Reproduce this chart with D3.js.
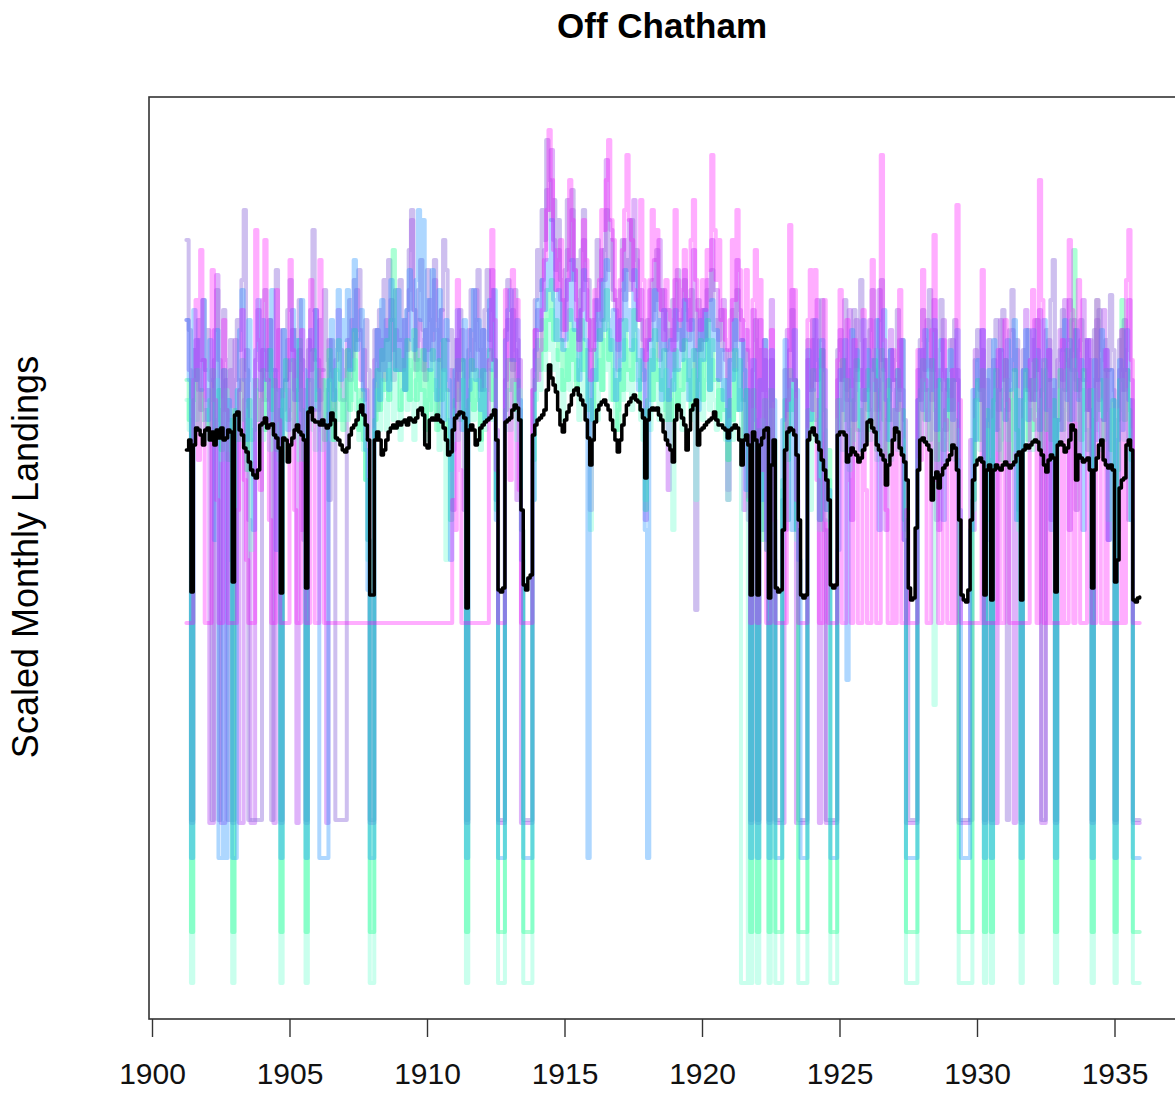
<!DOCTYPE html>
<html><head><meta charset="utf-8">
<script src="https://cdn.jsdelivr.net/npm/d3@7"></script>
<style>body{margin:0;background:#fff}svg{display:block}</style>
</head><body>
<svg id="chart" width="1175" height="1098"></svg>
<script>
const _ = null; // month with no landings -> drawn at the series' zero level
const startYear = 1901, startMonth = 4; // monthly series start April 1901
const xTicks = [1900, 1905, 1910, 1915, 1920, 1925, 1930, 1935];
const title = "Off Chatham";
const yLabel = "Scaled Monthly Landings";

// black line: combined scaled monthly landings
const combined = [
 -0.10,0.00,-1.52,-0.05,0.12,0.10,0.05,-0.05,0.10,
 0.12,0.00,0.08,-0.05,0.10,0.02,0.12,0.00,0.02,0.10,0.08,-1.42,
 0.25,0.28,0.10,0.05,-0.08,-0.12,-0.22,-0.30,-0.35,-0.38,-0.30,0.15,
 0.17,0.22,0.12,0.15,0.16,0.05,0.02,-0.08,-1.53,0.02,0.00,-0.22,
 -0.05,0.02,0.10,0.15,0.08,0.05,0.00,-1.48,0.28,0.32,0.20,0.18,
 0.18,0.15,0.20,0.15,0.12,0.15,0.27,0.20,0.02,0.00,-0.05,-0.10,
 -0.12,-0.08,0.05,0.12,0.15,0.20,0.28,0.35,0.25,0.15,0.00,-1.55,
 -1.55,0.00,0.08,0.00,-0.15,-0.10,0.00,0.08,0.12,0.15,0.12,0.18,
 0.15,0.18,0.20,0.15,0.22,0.20,0.18,0.22,0.30,0.32,0.25,-0.05,
 -0.08,0.20,0.22,0.20,0.25,0.20,0.18,0.12,0.00,-0.15,-0.12,0.10,
 0.22,0.25,0.28,0.27,0.22,-1.68,0.10,0.15,0.10,-0.05,0.00,0.12,
 0.15,0.18,0.20,0.22,0.25,0.30,0.00,-1.50,-1.52,-1.48,0.18,0.20,
 0.22,0.30,0.35,0.32,0.20,-0.70,-1.45,-1.50,-1.38,-1.35,0.05,0.15,
 0.20,0.22,0.25,0.30,0.50,0.75,0.62,0.55,0.48,0.30,0.15,0.08,
 0.20,0.28,0.35,0.45,0.50,0.52,0.45,0.40,0.35,0.20,0.02,-0.25,
 0.00,0.18,0.30,0.35,0.38,0.40,0.35,0.30,0.20,0.10,0.00,-0.12,
 0.00,0.15,0.25,0.35,0.38,0.42,0.45,0.40,0.38,0.30,0.22,-0.38,
 0.20,0.30,0.32,0.30,0.32,0.25,0.20,0.08,0.00,-0.05,-0.10,-0.22,
 0.20,0.35,0.30,0.22,0.15,-0.10,0.10,0.30,0.35,0.40,-0.05,0.10,
 0.12,0.15,0.18,0.20,0.22,0.28,0.20,0.15,0.15,0.12,0.10,0.02,
 0.10,0.12,0.15,0.12,0.00,-0.25,0.00,0.05,-0.05,-1.55,0.08,0.00,
 -1.55,-0.05,0.02,0.10,0.12,-1.58,-0.25,0.00,-1.48,-1.52,-1.50,-0.90,
 -0.10,0.08,0.12,0.10,0.05,-0.15,-0.80,-1.55,-1.58,-1.55,0.00,0.08,
 0.12,0.05,-0.02,-0.10,-0.20,-0.30,-0.40,-0.60,-1.45,-1.48,-1.45,0.05,
 0.08,0.08,0.05,-0.22,-0.15,-0.08,-0.12,-0.15,-0.22,-0.18,-0.10,-0.05,
 0.18,0.20,0.12,0.08,-0.05,-0.10,-0.15,-0.20,-0.45,-0.25,-0.15,0.00,
 0.12,0.08,-0.08,-0.15,-0.22,-0.40,-1.48,-1.60,-1.58,-0.88,-0.30,0.00,
 0.02,-0.02,-0.05,-0.10,-0.60,-0.38,-0.32,-0.48,-0.35,-0.28,-0.25,-0.20,
 -0.15,-0.05,-0.08,-0.30,-0.80,-1.55,-1.60,-1.62,-1.50,-0.80,-0.40,-0.25,
 -0.20,-0.18,-0.22,-1.55,-0.30,-0.25,-1.60,-0.30,-0.25,-0.28,-0.30,-0.25,
 -0.22,-0.25,-0.28,-0.25,-0.22,-0.15,-0.12,-1.60,-0.10,-0.05,-0.08,-0.05,
 -0.02,0.00,-0.02,-0.10,-0.15,-0.25,-0.32,-0.20,-0.15,-0.18,-1.52,-0.05,
 -0.02,-0.05,-0.12,-0.08,0.00,0.15,0.10,-0.40,-0.15,-0.18,-0.22,-0.20,
 -0.18,-0.30,-1.48,-0.30,-0.18,-0.05,0.00,-0.20,-0.25,-0.28,-0.25,-0.30,
 -1.42,-1.20,-0.48,-0.40,-0.38,-0.05,0.00,-0.10,-1.60,-1.62,-1.58,-1.57
];

const seriesPurple = [
 1.2,0.7,_,0.6,1.0,0.5,0.3,0.8,0.4,
 0.5,_,_,1.1,1.65,0.8,_,_,0.6,0.2,0.7,_,
 1.0,0.6,_,_,0.4,0.9,-0.8,_,_,0.8,1.3,0.7,
 0.9,0.4,0.6,1.2,0.7,_,0.7,1.1,_,0.3,0.6,1.0,
 0.7,1.1,0.5,_,0.9,-0.9,0.5,_,1.0,0.7,0.9,1.3,
 0.8,0.4,0.7,0.5,_,1.0,0.7,0.3,0.8,1.3,0.9,0.4,
 0.7,1.0,0.6,1.2,0.9,1.5,1.1,0.6,0.9,0.5,-1.0,_,
 _,0.8,1.1,0.7,1.0,0.6,1.2,0.8,1.4,0.9,1.1,0.7,
 1.0,0.7,1.2,0.9,1.5,2.2,1.3,0.8,1.2,1.0,0.7,1.1,
 0.9,1.4,1.0,1.6,1.2,0.8,1.3,0.7,1.0,0.5,0.7,-0.7,
 0.6,1.0,0.7,1.1,0.8,_,1.1,0.7,1.0,1.5,0.9,0.5,
 1.1,0.7,0.9,1.3,1.7,0.8,0.1,_,_,_,0.6,1.2,
 0.8,1.3,0.9,-0.6,0.8,_,_,_,_,_,0.7,1.1,
 1.3,1.1,1.6,1.9,2.5,2.3,2.9,2.0,1.5,1.9,1.4,1.0,
 1.4,1.9,1.6,2.3,1.7,1.4,1.0,1.5,2.0,1.5,1.2,-0.7,
 0.9,1.4,1.2,1.0,1.9,1.6,2.8,2.2,2.1,1.5,1.3,0.9,
 1.2,1.5,2.0,1.7,2.2,1.6,2.4,1.8,1.2,1.5,1.0,-0.8,
 1.0,1.5,1.2,1.8,1.4,2.0,1.3,1.5,1.1,-0.5,1.1,0.7,
 1.6,1.1,1.2,0.9,1.7,1.2,1.4,1.1,1.9,1.3,0.9,1.0,
 1.3,1.0,1.6,1.4,2.0,1.5,1.5,1.0,1.2,1.4,0.8,-0.5,
 0.9,1.4,1.0,1.8,1.3,1.2,-0.7,1.1,0.8,_,1.3,1.0,
 _,1.2,0.5,0.8,-1.1,_,1.4,-1.3,_,_,_,_,
 -0.9,1.1,0.9,1.5,0.6,_,_,_,_,_,0.8,0.5,
 1.0,0.6,1.4,_,0.9,-0.8,_,_,_,_,_,0.6,
 1.1,0.6,0.8,0.4,1.3,-0.8,0.6,1.2,0.6,0.7,0.4,1.0,
 0.5,1.2,0.7,0.9,0.3,1.5,0.8,0.8,-0.9,0.4,1.1,0.6,
 0.6,0.3,1.0,0.5,-1.0,_,_,_,_,_,0.7,0.4,
 0.9,0.5,1.2,0.7,0.4,1.4,0.7,-0.9,0.7,1.2,0.6,0.5,
 0.3,1.0,0.6,0.7,_,_,_,_,_,0.0,-0.9,0.9,
 0.6,0.4,1.1,_,0.6,-1.0,_,0.8,_,0.5,1.2,0.6,
 0.8,0.3,0.6,1.1,_,0.9,-0.8,_,0.7,1.3,0.5,0.6,
 0.4,1.2,0.7,1.3,_,_,0.7,1.0,-0.8,0.5,_,0.8,
 1.1,0.6,1.4,0.8,-0.9,0.9,1.2,0.6,0.5,1.0,1.4,0.7,
 0.3,1.0,_,0.6,1.2,0.4,0.8,1.3,0.7,-1.0,0.7,0.5,
 _,-0.9,0.7,1.1,0.5,0.9,1.4,0.6,_,_,_,_
];

const seriesLavender = [
 2.0,1.1,_,0.9,0.6,1.2,0.8,1.4,0.7,
 1.1,0.6,_,0.8,1.5,_,0.3,1.3,0.8,_,1.0,_,
 0.6,1.2,0.9,1.6,2.3,0.7,_,_,_,_,_,_,
 0.9,1.5,0.7,1.2,_,0.7,1.7,0.5,_,1.1,0.6,1.3,
 1.6,0.9,1.1,0.4,1.4,0.8,-1.0,_,0.9,1.3,2.1,0.8,
 0.3,1.2,0.7,1.5,0.8,-0.6,1.0,0.5,_,_,_,_,
 _,0.9,1.4,0.7,1.6,1.0,1.7,1.1,0.4,1.2,0.7,_,
 _,1.1,0.3,1.3,0.8,1.6,1.0,1.8,1.2,0.6,1.5,1.0,
 1.6,1.0,0.5,1.3,1.9,2.3,1.3,0.7,1.5,1.8,1.1,0.6,
 1.7,1.2,0.8,1.8,1.1,0.2,1.3,2.0,1.7,1.0,1.1,-0.1,
 1.0,0.4,1.3,0.8,-0.7,_,0.9,1.5,0.7,1.2,1.7,0.9,
 0.5,1.3,1.7,1.0,1.5,0.8,-0.6,_,_,_,1.1,1.6,
 1.3,0.7,1.5,1.0,0.3,-0.9,_,_,_,_,0.5,1.4,
 1.9,1.5,2.3,2.0,3.0,2.6,2.2,2.4,1.7,2.2,1.6,1.1,
 1.7,2.4,1.8,2.5,1.6,1.8,1.0,1.9,2.3,1.6,1.6,0.9,
 1.2,1.0,2.0,1.6,1.2,1.9,2.3,1.7,2.0,1.4,1.4,0.7,
 1.5,2.0,1.4,1.8,1.5,2.2,1.6,1.9,1.2,1.2,0.6,0.9,
 1.2,1.0,1.6,1.3,1.9,0.8,1.5,1.3,0.9,1.3,1.0,1.4,
 1.0,1.7,1.3,0.9,1.6,1.3,1.0,1.5,1.2,-1.7,1.4,0.9,
 1.3,1.0,1.5,1.2,1.7,1.1,1.2,0.6,1.3,0.9,0.9,-0.6,
 0.8,1.3,0.7,1.5,1.0,1.0,0.4,0.9,-0.8,_,0.7,1.2,
 _,0.9,-0.9,1.0,0.5,_,0.8,-1.2,_,_,_,-0.6,
 0.7,-0.8,0.9,1.3,0.6,-0.9,_,_,_,_,1.0,0.5,
 1.2,0.7,0.6,1.0,1.4,-0.9,_,_,_,_,_,0.9,
 1.0,0.6,1.4,0.5,0.7,0.2,1.3,0.7,1.0,1.6,0.4,0.5,
 0.3,1.1,1.5,0.7,0.1,1.2,1.6,0.7,0.8,0.2,0.9,0.6,
 0.8,1.3,0.5,1.0,0.2,-0.9,_,_,_,_,0.4,1.0,
 1.3,0.7,1.0,1.5,0.7,1.1,-0.8,0.9,1.4,0.5,0.1,0.7,
 1.0,0.3,1.2,0.6,_,_,_,_,_,_,-0.6,0.8,
 1.1,0.5,0.9,_,-0.8,1.0,_,0.7,1.2,0.3,0.9,1.3,
 0.6,_,1.1,1.5,0.7,1.0,-0.7,_,0.9,0.5,1.1,0.4,
 1.0,0.5,1.2,0.7,_,_,1.1,0.6,1.4,1.8,_,0.2,
 0.9,1.3,0.5,1.0,1.4,0.7,1.1,-0.7,0.9,1.2,0.6,1.0,
 0.3,0.8,_,1.1,0.6,1.3,0.9,0.2,1.0,0.7,1.45,0.9,
 _,0.2,1.0,0.5,1.2,0.7,-0.8,0.4,_,_,_,_
];

const seriesAqua = [
 0.4,0.1,_,0.6,0.2,0.7,0.3,0.4,0.0,
 0.3,0.0,0.5,0.1,0.6,0.1,-0.2,0.4,0.5,-0.1,0.3,_,
 0.1,0.5,0.0,0.6,0.3,-0.2,0.2,-1.1,0.0,0.5,0.2,0.4,
 0.0,0.6,0.3,-0.1,0.5,0.1,0.5,-0.2,_,0.4,0.0,0.5,
 0.2,0.0,0.6,0.2,-0.2,0.5,0.1,_,0.3,0.6,0.1,-0.1,
 0.5,0.1,-0.1,0.6,0.3,0.6,0.0,0.4,0.7,0.2,0.5,0.2,
 0.6,0.2,0.7,0.4,0.8,0.3,0.0,0.4,-0.1,-0.4,-1.2,_,
 _,0.1,0.5,0.1,0.6,0.4,0.1,0.7,0.6,0.2,0.7,0.3,
 0.0,0.5,0.7,0.3,0.8,0.4,0.0,0.6,0.9,0.3,0.5,0.0,
 0.4,0.7,0.2,0.6,0.2,-0.1,0.5,0.7,-1.2,0.2,-0.3,0.0,
 0.3,0.0,0.5,0.6,0.1,_,0.2,0.6,0.2,0.4,0.6,-0.1,
 0.5,0.1,0.5,0.7,0.2,0.6,-0.6,_,_,_,0.1,0.5,
 0.1,0.6,0.4,0.0,0.5,-1.0,_,_,_,_,-0.6,0.4,
 0.8,0.5,1.0,0.7,1.2,0.9,1.3,0.7,0.9,0.5,0.7,0.2,
 0.6,0.9,0.5,1.1,0.6,0.8,0.2,0.5,1.0,0.4,0.6,-0.9,
 0.3,0.7,0.2,0.8,0.5,1.0,0.7,1.1,0.4,0.7,0.1,0.3,
 0.8,0.4,1.0,0.5,0.7,0.3,1.0,0.6,0.6,0.2,0.0,-0.6,
 0.3,0.1,0.9,0.4,0.8,0.2,0.6,0.3,0.7,0.0,0.4,-0.9,
 0.7,0.3,0.5,0.1,0.8,0.4,0.6,0.2,0.7,-0.6,0.5,0.8,
 0.2,0.6,1.0,0.3,0.8,0.4,0.1,0.5,0.2,0.6,0.0,-0.6,
 0.2,0.0,0.7,0.3,0.5,_,_,_,-0.6,_,0.3,-0.1,
 _,-0.9,0.2,0.0,-1.1,_,0.3,-0.9,_,_,_,-0.5,
 0.2,-0.8,0.5,0.1,0.4,-1.0,_,_,_,_,0.1,-0.7,
 0.5,0.0,0.2,-0.9,0.7,0.1,-0.8,-0.4,_,_,_,0.2,
 0.4,-0.1,0.6,0.1,-0.3,0.5,0.0,0.7,-0.1,0.1,0.5,0.0,
 0.5,0.0,0.7,0.9,-0.2,0.3,0.7,-0.1,0.0,0.5,-0.2,0.1,
 0.3,-0.1,0.5,0.0,-0.9,_,_,_,_,_,-0.2,0.4,
 0.6,0.0,0.3,0.7,-0.1,-2.65,0.5,0.0,0.6,-0.2,0.0,0.4,
 -0.1,0.4,-0.2,0.1,_,_,_,_,_,_,-0.7,0.2,
 0.4,-0.1,0.5,_,0.1,-0.8,_,0.2,0.5,-0.1,0.0,0.4,
 0.6,0.0,0.0,0.4,-0.1,0.5,-0.9,_,0.2,0.5,-0.1,0.3,
 -0.1,0.6,0.1,0.4,-0.1,0.7,0.1,0.3,-0.2,0.2,_,0.0,
 0.5,0.0,0.3,0.7,0.0,0.6,0.8,0.2,0.4,-0.2,0.5,0.1,
 0.1,-0.3,_,0.5,0.1,0.4,-0.1,0.2,0.6,-0.8,0.1,0.3,
 _,-0.4,0.3,0.6,0.0,0.5,0.1,-0.8,_,_,_,_
];

const seriesGreen = [
 0.6,0.2,_,0.4,0.7,0.1,0.5,0.2,0.3,
 0.1,0.4,0.7,0.0,0.2,0.5,-0.1,0.7,0.3,-0.2,0.2,_,
 0.3,0.0,0.5,0.8,0.2,-0.3,0.4,0.0,0.1,0.6,0.2,0.4,
 0.7,0.1,0.4,0.9,0.3,0.6,-0.1,0.3,_,0.5,0.8,0.2,
 0.3,0.8,0.1,0.5,1.0,0.3,-0.2,_,0.6,0.2,0.9,0.4,
 0.7,0.2,0.6,0.0,0.5,0.9,0.3,0.0,0.7,1.0,0.4,0.1,
 0.4,0.9,0.3,0.6,1.1,0.5,0.1,0.5,0.0,-0.4,-1.0,_,
 _,0.2,0.7,0.3,0.9,0.5,1.0,0.4,1.2,1.9,0.7,0.9,
 0.3,0.8,0.5,1.0,0.4,0.7,1.1,0.4,0.8,0.5,0.9,0.1,
 0.7,0.3,0.9,0.5,0.1,0.8,0.4,1.0,0.5,0.0,-0.8,0.1,
 0.4,0.8,0.2,0.8,0.3,_,0.4,0.8,0.3,0.7,0.4,0.0,
 0.7,0.2,0.5,0.9,0.4,0.8,-0.7,_,_,_,0.3,0.8,
 0.5,0.8,0.3,0.6,0.2,-0.9,_,_,_,_,-0.2,0.6,
 1.0,0.7,1.2,0.9,1.5,1.2,1.6,1.0,1.2,0.8,1.0,0.5,
 0.9,0.6,1.3,0.8,1.1,0.5,0.7,1.2,0.7,0.9,0.3,0.4,
 0.2,0.9,0.6,1.1,0.5,1.2,1.5,0.8,1.0,0.4,0.6,0.1,
 0.7,0.5,1.2,0.7,0.9,0.6,1.3,0.8,0.8,0.3,0.3,-0.7,
 0.4,0.8,0.4,1.1,0.6,0.7,0.5,0.9,0.2,0.5,0.2,0.6,
 0.9,0.3,0.7,0.5,1.0,0.6,0.8,0.3,0.9,0.4,0.6,1.0,
 0.4,0.8,1.2,0.5,1.0,0.6,0.6,0.2,0.5,0.3,0.3,-0.2,
 0.4,0.2,0.9,0.3,0.8,0.4,0.0,0.5,-0.6,_,0.5,0.1,
 _,0.1,-1.0,0.4,-1.1,_,0.5,0.0,_,_,_,-0.4,
 0.4,-0.2,0.7,0.3,0.6,-0.9,_,_,_,_,0.3,0.1,
 0.7,0.2,0.4,-0.8,0.9,0.3,-0.7,-0.1,_,_,_,0.4,
 0.1,0.8,0.2,0.6,0.1,-0.1,0.4,0.8,0.1,0.3,-0.1,0.5,
 0.7,0.1,0.3,0.8,-0.1,0.5,0.9,0.2,-0.2,0.6,0.2,0.3,
 0.0,0.7,0.1,0.3,-0.8,_,_,_,_,_,0.0,0.5,
 0.8,0.2,0.5,0.0,0.8,0.3,-0.2,0.6,0.1,-0.1,0.3,0.6,
 -0.1,0.6,0.2,-0.2,_,_,_,_,_,_,-0.6,0.4,
 0.6,0.0,0.7,_,0.3,-0.2,_,0.4,0.7,0.1,-0.2,0.5,
 0.8,0.2,-0.2,0.5,0.7,0.1,-0.8,_,0.4,0.7,0.0,0.6,
 0.1,0.8,0.3,-0.1,0.5,0.8,0.1,0.6,0.0,0.4,_,0.2,
 0.7,0.1,0.5,0.9,0.2,1.2,1.9,0.5,0.6,0.0,0.7,0.3,
 -0.1,0.5,_,0.2,1.4,0.3,0.6,0.0,0.7,0.3,-0.1,0.4,
 _,-0.3,0.6,1.4,0.2,0.7,0.3,-0.2,_,_,_,_
];

const seriesSkyBlue = [
 1.2,0.6,_,1.3,0.6,1.0,0.5,1.4,0.7,
 0.2,1.0,0.6,-1.0,1.1,_,_,0.7,_,0.4,-1.2,_,
 _,0.5,1.1,1.5,0.6,0.0,1.2,0.6,-0.9,0.9,1.4,0.5,
 1.2,0.6,0.9,0.2,1.5,0.7,-1.1,0.5,_,1.1,0.6,0.1,
 0.8,1.3,0.4,1.0,0.1,1.4,0.7,_,0.6,1.1,0.3,1.3,
 0.5,_,_,_,_,0.6,1.2,0.4,0.9,1.5,0.6,1.2,
 1.0,1.5,0.7,1.1,1.8,0.9,1.0,1.3,0.5,-0.1,-1.5,_,
 _,0.6,1.1,0.4,1.4,0.7,1.1,0.5,1.6,1.2,0.7,1.5,
 0.7,1.2,0.5,1.3,1.7,1.0,0.9,1.6,2.3,1.2,2.2,0.8,
 1.4,0.7,1.7,1.1,0.4,1.5,1.0,0.2,1.2,0.6,-1.2,0.2,
 0.7,1.3,0.6,0.1,1.2,_,0.5,1.1,1.5,0.6,1.2,0.3,
 1.1,0.2,0.8,1.4,0.7,1.5,-0.8,_,_,_,1.0,1.3,
 1.5,0.8,0.8,1.2,0.4,-1.2,_,_,_,_,-0.6,0.9,
 1.4,1.1,1.6,1.3,1.8,1.5,2.2,1.4,1.0,1.5,1.0,0.9,
 1.0,1.6,1.2,1.8,1.1,1.2,0.6,1.3,1.7,1.0,_,0.2,
 0.7,0.6,1.4,1.0,1.6,1.1,1.8,1.2,0.9,1.3,0.4,0.6,
 1.2,0.8,1.7,1.1,1.3,0.9,1.7,1.1,0.5,0.9,0.7,-0.9,
 _,1.0,0.7,1.5,1.0,1.2,0.4,1.3,0.9,0.4,1.0,0.5,
 1.3,0.7,1.1,0.8,1.4,1.0,0.4,1.2,0.8,0.9,0.3,1.2,
 0.8,1.3,1.0,0.5,1.4,0.9,1.1,0.6,0.9,0.4,0.6,0.0,
 0.8,0.6,1.2,0.9,0.3,1.0,0.7,-0.5,0.5,_,0.8,0.2,
 _,0.6,-0.6,1.0,-1.0,_,0.9,0.4,_,_,_,0.2,
 1.0,0.3,0.6,-0.9,1.1,0.5,-1.2,_,_,_,0.9,0.2,
 0.5,1.2,0.8,-0.8,1.0,0.7,-0.7,-0.5,_,_,_,-1.1,
 0.7,0.3,1.0,-2.4,0.4,1.1,0.2,0.9,0.5,-0.1,1.2,0.4,
 0.9,0.2,0.8,0.5,1.2,-0.9,0.6,1.3,0.4,0.0,0.9,0.5,
 0.1,0.7,0.4,1.0,-1.0,_,_,_,_,_,0.4,0.9,
 0.3,1.1,0.2,0.8,0.5,1.2,0.1,0.6,1.0,-0.8,0.7,0.3,
 0.9,0.2,0.6,1.1,-0.7,_,_,_,_,-0.9,0.5,0.0,
 0.8,0.4,1.1,_,0.2,0.7,_,1.0,0.1,0.5,0.9,0.3,
 0.2,1.0,0.5,0.8,1.2,-0.8,0.4,_,0.7,1.1,0.2,0.8,
 1.1,0.4,0.9,0.1,0.8,1.2,0.3,0.9,-0.9,0.6,_,0.2,
 0.1,0.9,1.2,0.4,1.0,0.2,0.7,1.1,0.4,0.8,-0.9,0.6,
 1.0,0.3,_,0.8,0.0,0.6,1.1,0.2,0.9,-1.0,0.7,0.4,
 _,0.0,0.8,0.1,0.7,1.1,0.4,-0.8,_,_,_,_
];

const seriesMagenta = [
 _,_,_,0.6,1.4,-0.2,1.9,0.8,_,
 _,_,1.7,0.4,-0.6,_,_,1.2,0.3,_,_,_,
 _,-0.7,0.5,1.3,-0.4,-1.2,_,_,_,2.1,1.0,-0.5,
 1.4,2.0,0.6,-0.8,_,_,1.5,0.2,_,_,_,_,
 1.8,0.9,-0.7,_,_,1.1,-0.9,_,_,1.6,0.3,_,
 _,1.8,0.2,_,_,_,_,_,_,_,_,_,
 _,_,_,_,_,_,_,_,_,_,_,_,
 _,_,_,_,_,_,_,_,_,_,_,_,
 _,_,_,_,_,_,_,_,_,_,_,_,
 _,_,_,_,_,_,_,_,_,_,_,-0.6,
 -0.9,1.6,-0.3,_,_,_,_,_,_,_,_,_,
 _,_,_,0.8,2.1,1.2,-0.3,_,_,_,1.5,0.3,
 -0.4,1.7,0.6,1.4,-0.5,_,_,_,_,_,0.5,1.1,
 0.6,0.9,1.3,1.8,2.3,3.1,2.6,1.9,1.5,1.8,2.0,1.4,
 1.1,1.6,2.6,2.2,1.7,1.2,0.9,1.3,2.2,1.8,1.2,0.6,
 0.9,1.5,1.3,1.6,2.3,2.1,2.6,3.0,2.2,2.0,1.4,1.0,
 1.6,1.9,2.3,2.85,2.2,2.0,1.5,1.4,1.2,2.4,1.6,0.8,
 1.0,1.6,2.3,1.8,2.1,1.5,1.3,1.0,1.6,1.3,1.2,0.9,
 2.3,1.6,1.2,1.5,1.9,1.4,1.1,2.0,2.4,1.6,1.3,1.1,
 1.6,1.3,1.9,1.7,2.85,2.1,1.6,2.0,1.2,1.3,1.0,0.9,
 1.2,2.0,1.4,2.3,1.7,1.0,1.2,1.7,0.9,_,1.4,1.9,
 _,1.6,-0.3,0.9,_,_,1.1,-0.8,_,_,_,_,
 _,0.4,2.15,0.6,1.5,-0.6,_,_,_,_,1.2,1.7,
 0.3,1.7,-0.4,_,_,1.4,-0.9,_,_,_,_,0.8,
 1.5,_,_,1.2,-0.4,_,1.0,0.1,_,_,1.3,-0.5,
 _,_,1.8,0.6,_,_,2.85,1.0,-0.7,_,_,0.9,
 _,0.3,1.5,_,_,-0.7,_,_,_,_,0.9,-0.2,
 1.7,0.6,_,_,1.1,2.05,-0.4,_,_,1.0,0.2,_,
 _,0.7,_,2.35,0.4,_,_,_,_,_,_,_,
 _,_,1.7,_,_,_,_,_,_,0.9,_,_,
 1.2,0.4,_,_,_,_,_,_,_,_,_,0.8,
 1.5,0.2,_,2.6,1.4,_,_,0.9,_,_,_,_,
 _,1.0,_,_,2.0,1.3,_,0.7,1.6,_,_,_,
 1.0,-0.3,_,_,1.4,0.2,_,_,0.9,_,_,_,
 _,_,_,1.1,_,1.6,2.1,0.8,_,_,_,_
];

// drawn bottom to top; zero level = scaled value of a month with no landings
const colouredSeries = [seriesPurple, seriesLavender, seriesAqua, seriesGreen, seriesSkyBlue, seriesMagenta];
const zeroLevel = [-3.83, -3.80, -5.43, -4.92, -4.18, -1.83];
const seriesColours = ["#a020f0", "#9370db", "#7fffd4", "#00ff7f", "#1e90ff", "#ff00ff"];
const seriesAlpha = [0.34, 0.45, 0.42, 0.33, 0.36, 0.32];

colouredSeries.concat([combined]).forEach((s, k) => {
  if (s.length !== combined.length) throw new Error("series " + k + " length " + s.length + " != " + combined.length);
});

const box = {left: 149, top: 97, right: 1176, bottom: 1019};
const svg = d3.select("#chart");
const x = d3.scaleLinear().domain([1900, 1937.5]).range([152, 152 + 37.5 * 27.5]);
const y = d3.scaleLinear().domain([-5.79, 3.43]).range([box.bottom, box.top]);
const monthTime = i => startYear + (startMonth - 1 + i) / 12;

svg.append("defs").append("clipPath").attr("id", "plotClip")
  .append("rect").attr("x", box.left).attr("y", box.top)
  .attr("width", box.right - box.left).attr("height", box.bottom - box.top);

const plot = svg.append("g").attr("clip-path", "url(#plotClip)");
const line = d3.line().x(d => x(d.t)).y(d => y(d.v)).curve(d3.curveStepAfter);

colouredSeries.forEach((s, k) => {
  const pts = s.map((v, i) => ({t: monthTime(i), v: v === null ? zeroLevel[k] : v}));
  plot.append("path").attr("d", line(pts))
    .attr("fill", "none").attr("stroke", seriesColours[k]).attr("stroke-opacity", seriesAlpha[k])
    .attr("stroke-width", 4).attr("stroke-linejoin", "round").attr("stroke-linecap", "round");
});
plot.append("path").attr("d", line(combined.map((v, i) => ({t: monthTime(i), v}))))
  .attr("fill", "none").attr("stroke", "#000").attr("stroke-width", 3.5)
  .attr("stroke-linejoin", "round").attr("stroke-linecap", "round");

// frame
svg.append("rect").attr("x", box.left).attr("y", box.top)
  .attr("width", box.right - box.left).attr("height", box.bottom - box.top)
  .attr("fill", "none").attr("stroke", "#333").attr("stroke-width", 1.6);

// x axis
const axis = d3.axisBottom(x).tickValues(xTicks).tickFormat(d3.format("d")).tickSize(18).tickPadding(26);
const gx = svg.append("g").attr("transform", `translate(0,${box.bottom})`).call(axis);
gx.select(".domain").remove();
gx.selectAll(".tick line").attr("stroke", "#333").attr("stroke-width", 1.4);
gx.selectAll(".tick text").attr("fill", "#111")
  .style("font-family", "'Liberation Sans', Arial, sans-serif").style("font-size", "30px");

svg.append("text").attr("x", 662).attr("y", 38).attr("text-anchor", "middle")
  .style("font-family", "'Liberation Sans', Arial, sans-serif").style("font-size", "35px").style("font-weight", "bold")
  .text(title);
svg.append("text").attr("transform", "translate(38,557) rotate(-90)").attr("text-anchor", "middle")
  .style("font-family", "'Liberation Sans', Arial, sans-serif").style("font-size", "36px")
  .text(yLabel);
</script>
</body></html>
